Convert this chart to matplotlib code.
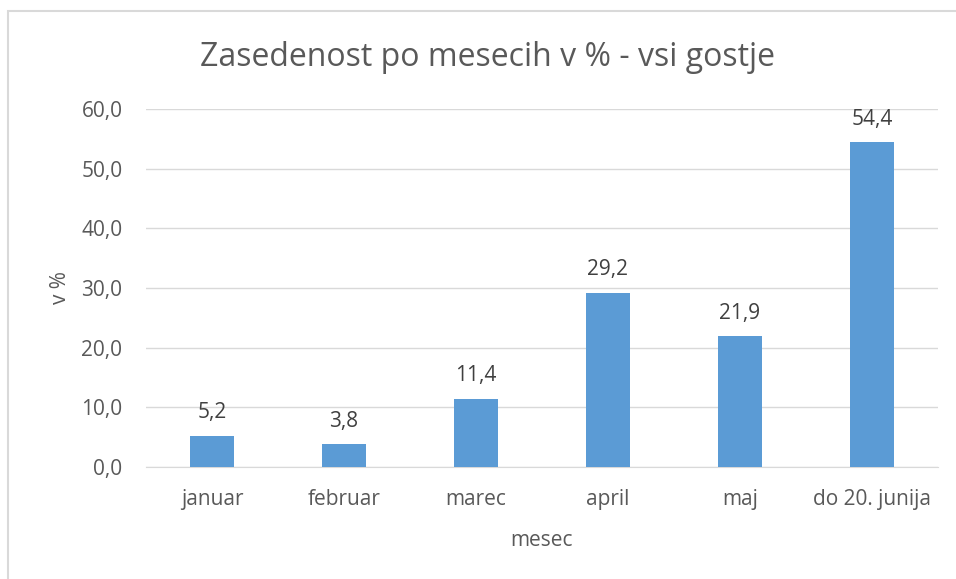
import matplotlib
matplotlib.use("Agg")
import matplotlib.pyplot as plt
from matplotlib.patches import Rectangle

categories = ["januar", "februar", "marec", "april", "maj", "do 20. junija"]
values = [5.2, 3.8, 11.4, 29.2, 21.9, 54.4]
yticks = [0, 10, 20, 30, 40, 50, 60]

plt.rcParams['font.family'] = ['Open Sans', 'DejaVu Sans']
gray = "#595959"
fs = 15

W, H = 956, 579
fig = plt.figure(figsize=(W / 100, H / 100), dpi=100)

# chart border (partially outside image)
fig.patches.append(Rectangle((7.5 / W, -0.1), 1.2, 1 - 10.5 / H + 0.1,
                             transform=fig.transFigure, fill=False,
                             edgecolor="#D9D9D9", linewidth=1.5))

ax = fig.add_axes([146 / W, 1 - 467 / H, (938 - 146) / W, (467 - 109) / H])
x = range(len(categories))
ax.bar(x, values, width=0.33, color="#5B9BD5", zorder=3)
ax.set_xlim(-0.5, len(categories) - 0.5)
ax.set_ylim(0, 60)
ax.set_yticks(yticks)
ax.set_yticklabels([f"{v:.1f}".replace(".", ",") for v in yticks])
ax.set_xticks(list(x))
ax.set_xticklabels(categories)
ax.tick_params(axis="both", length=0, colors=gray, labelsize=fs)
ax.tick_params(axis="x", pad=16)
ax.tick_params(axis="y", pad=17)
ax.grid(axis="y", color="#D9D9D9", linewidth=1, zorder=0)
for s in ["top", "right", "left"]:
    ax.spines[s].set_visible(False)
ax.spines["bottom"].set_color("#D9D9D9")

for i, v in enumerate(values):
    ax.annotate(f"{v:.1f}".replace(".", ","), (i, v), xytext=(0, 12.6),
                textcoords="offset points", ha="center", va="baseline",
                color="#404040", fontsize=fs, zorder=4)

ax.set_xlabel("mesec", color=gray, fontsize=fs)
ax.xaxis.set_label_coords(0.5, (467 - 540) / 358)
ax.xaxis.label.set_va("center")
ax.set_ylabel("v %", color=gray, fontsize=fs)
ax.yaxis.set_label_coords((61 - 146) / 792, 0.5)
ax.yaxis.label.set_va("center")
fig.text(487 / W, 1 - 58 / H, "Zasedenost po mesecih v % - vsi gostje",
         ha="center", va="center", color=gray, fontsize=23)

fig.savefig("out.png", dpi=100)
